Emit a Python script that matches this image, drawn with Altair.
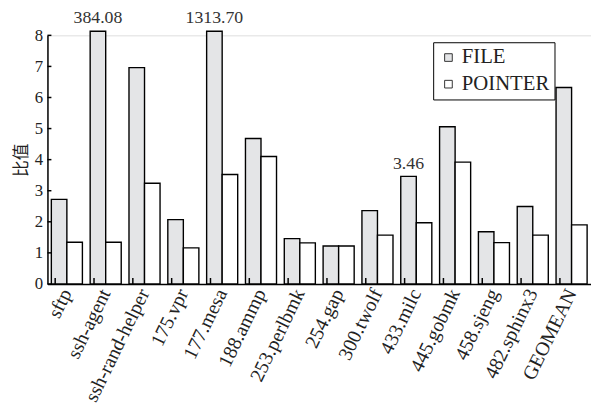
import altair as alt
import pandas as pd

categories = ["sftp", "ssh-agent", "ssh-rand-helper", "175.vpr", "177.mesa",
              "188.ammp", "253.perlbmk", "254.gap", "300.twolf", "433.milc",
              "445.gobmk", "458.sjeng", "482.sphinx3", "GEOMEAN"]
file_vals = [2.72, 384.08, 6.96, 2.07, 1313.70, 4.68, 1.46, 1.22, 2.36, 3.46,
             5.06, 1.68, 2.49, 6.32]
pointer_vals = [1.34, 1.34, 3.24, 1.16, 3.52, 4.10, 1.32, 1.22, 1.57, 1.97,
                3.92, 1.33, 1.57, 1.90]
file_labels = [None, "384.08", None, None, "1313.70", None, None, None, None,
               "3.46", None, None, None, None]
series = ["FILE", "POINTER"]
y_ticks = [0, 1, 2, 3, 4, 5, 6, 7, 8]

rows = []
for c, f, p, lab in zip(categories, file_vals, pointer_vals, file_labels):
    rows.append({"category": c, "series": "FILE", "value": f, "label": lab})
    rows.append({"category": c, "series": "POINTER", "value": p, "label": None})
df = pd.DataFrame(rows)
ytick_df = pd.DataFrame({"disp": y_ticks})

FONT = "Liberation Serif, Noto Sans CJK SC"
W, H = 551, 252

xscale = alt.Scale(paddingInner=0.2, paddingOuter=0.1)
xaxis = alt.Axis(title=None, labelAngle=-64, labelFontSize=20,
                 labelFont=FONT, labelColor="#222", ticks=False,
                 domainColor="black", domainWidth=1.5,
                 labelPadding=6, labelAlign="right",
                 labelBaseline="middle", labelOverlap=False)
yscale = alt.Scale(domain=[0, 8], nice=False)
yaxis = alt.Axis(title="比值", titleFont="Noto Sans CJK SC",
                 titleFontSize=17, titleFontWeight="normal",
                 titleColor="#222", titlePadding=4,
                 values=y_ticks, tickCount=9, labelFontSize=17,
                 labelFont=FONT, labelColor="#222", ticks=False,
                 grid=False, domainColor="black", domainWidth=1.5,
                 labelPadding=5, labelOverlap=False)

def X(**kw):
    return alt.X("category:N", sort=categories, scale=xscale, axis=xaxis, **kw)

def Y():
    return alt.Y("disp:Q", scale=yscale, axis=yaxis)

base = alt.Chart(df).transform_calculate(disp="min(datum.value, 8.13)")

bars = base.mark_bar(stroke="black", strokeWidth=1.4, clip=False).encode(
    x=X(),
    y=Y(),
    xOffset=alt.XOffset("series:N", sort=series),
    fill=alt.Fill("series:N", sort=series,
                  scale=alt.Scale(domain=series, range=["#e4e5e7", "#ffffff"]),
                  legend=alt.Legend(title=None, orient="none", legendX=391,
                                    legendY=7, strokeColor="black",
                                    fillColor="white", padding=5,
                                    symbolType="square", symbolSize=60,
                                    symbolStrokeColor="#333",
                                    symbolStrokeWidth=1,
                                    labelFont=FONT, labelFontSize=21,
                                    labelColor="#222", rowPadding=5,
                                    labelOffset=3)),
)

texts = base.transform_filter("datum.label != null").mark_text(
    baseline="bottom", dy=-4, fontSize=18, font=FONT, color="#333"
).encode(
    x=X(),
    xOffset=alt.XOffset("series:N", sort=series),
    y=Y(),
    text="label:N",
)

xticks = base.transform_filter("datum.series == 'FILE'").mark_rule(
    color="black", strokeWidth=1.5
).encode(
    x=X(bandPosition=1),
    xOffset=alt.value(3.9),
    y=alt.value(H),
    y2=alt.value(H - 6),
)

yticks = alt.Chart(ytick_df).mark_rule(color="black", strokeWidth=1.5).encode(
    y=Y(),
    x=alt.value(0),
    x2=alt.value(4),
)

chart = alt.layer(bars, xticks, yticks, texts).properties(
    width=W, height=H,
    autosize=alt.AutoSizeParams(type="none"),
    padding={"left": 40, "top": 25, "right": 0, "bottom": 120},
).configure_view(stroke="black", strokeWidth=1.5).configure(background="white")

chart.save("out.html", embed_options={"renderer": "svg", "actions": False})
